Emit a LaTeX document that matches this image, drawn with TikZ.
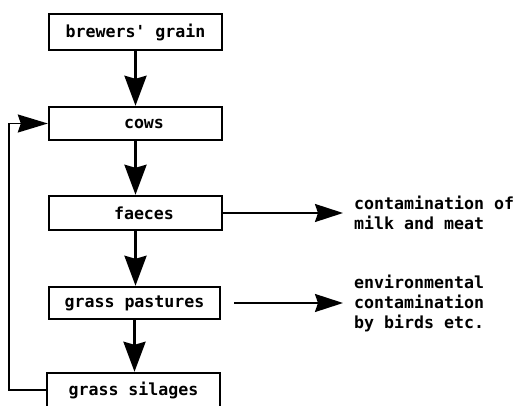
\documentclass[tikz,border=0pt]{standalone}
\usepackage{fontspec}
\setmonofont{DejaVu Sans Mono}
\usetikzlibrary{arrows.meta}
\begin{document}
\begin{tikzpicture}[x=1pt, y=1pt,
        every node/.style={font=\ttfamily\bfseries\fontsize{16.6}{20}\selectfont},
        stage/.style={rectangle, draw, line width=2.4pt,
            minimum width=173pt, minimum height=34pt, inner sep=0pt},
        outcome/.style={align=left, inner sep=0pt, anchor=west},
        arrow/.style={-{Stealth[length=30pt, width=22pt, inset=3pt]}, line width=3pt},
        sidearrow/.style={-{Stealth[length=28pt, width=18pt, inset=3pt]}, line width=2pt},
        backarrow/.style={-{Stealth[length=30pt, width=18pt, inset=3pt]}, line width=1.8pt}
      ]
      \clip (0,0) rectangle (517,405);
      \node[stage, minimum height=36pt] (grain) at (135.5, 373) {brewers' grain};
      \node[stage, minimum height=33pt] (cows) at (135.5, 281.5) {\hspace{17pt}cows};
      \node[stage] (faeces) at (135.5, 192) {\hspace{17pt}faeces};
      \node[stage, minimum width=171pt, minimum height=32pt] (pasture) at (134.5, 102)
      {grass pastures};
      \node[stage] (silage) at (133.5, 15) {grass silages};
      \node[outcome] (food) at (354, 192) {contamination of\\milk and meat};
      \node[outcome] (env) at (354, 102) {environmental\\contamination\\by birds etc.};
      \coordinate (foodtip) at (343, 192);
      \coordinate (envtip) at (343, 102);
      \draw[arrow] (grain.south)   -- (grain.south |- cows.north);
      \draw[arrow] (cows.south)    -- (cows.south |- faeces.north);
      \draw[arrow] (faeces.south)  -- (faeces.south |- pasture.north);
      \draw[arrow] (pasture.south) -- (pasture.south |- silage.north);
      \draw[sidearrow] (faeces.east) -- (foodtip);
      \draw[sidearrow] ([xshift=13pt]pasture.east) -- (envtip);
      \draw[backarrow] (silage.west) -- ++(-37, 0) |- (cows.west);
    \end{tikzpicture}
\end{document}
